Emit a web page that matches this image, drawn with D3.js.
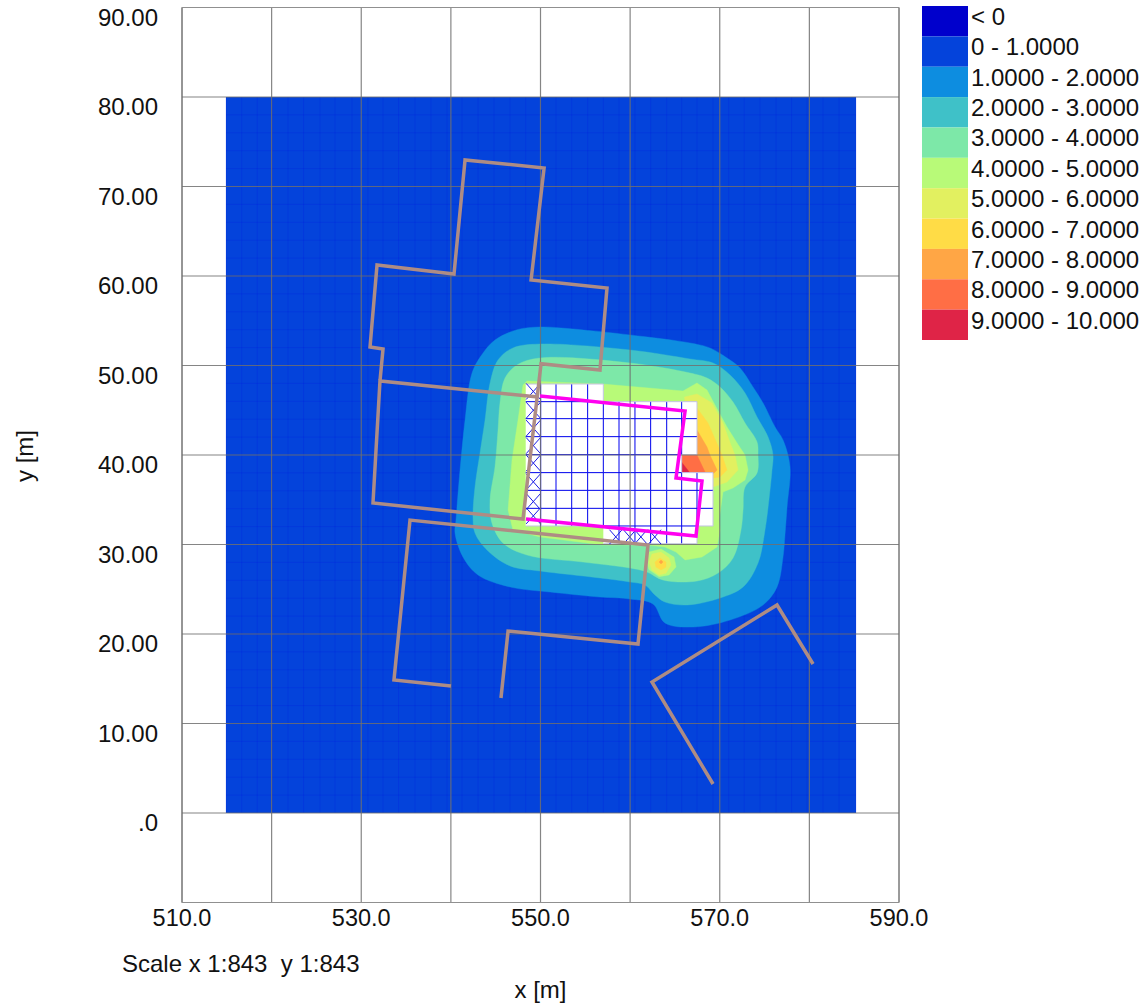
<!DOCTYPE html>
<html><head><meta charset="utf-8">
<script src="https://cdn.jsdelivr.net/npm/d3@7/dist/d3.min.js"></script>
<style>html,body{margin:0;padding:0;background:#fff}svg{display:block}text{font-family:"Liberation Sans",Arial,sans-serif;fill:#111;white-space:pre}</style>
</head><body><svg id="c" width="1146" height="1005"></svg>
<script>
const legendLabels=["< 0","0 - 1.0000","1.0000 - 2.0000","2.0000 - 3.0000","3.0000 - 4.0000","4.0000 - 5.0000","5.0000 - 6.0000","6.0000 - 7.0000","7.0000 - 8.0000","8.0000 - 9.0000","9.0000 - 10.000"];
const legendColors=["#0000cc","#0443db","#0d8de0","#3fc1c8","#7de8a8","#b8fa78","#e2f060","#ffdc46","#ffa645","#ff6e45","#df2447"];
const xTicks=[510,520,530,540,550,560,570,580,590];
const yTicks=[0,10,20,30,40,50,60,70,80,90];
const xLabelled={510:"510.0",530:"530.0",550:"550.0",570:"570.0",590:"590.0"};
const yLabels={0:".0",10:"10.00",20:"20.00",30:"30.00",40:"40.00",50:"50.00",60:"60.00",70:"70.00",80:"80.00",90:"90.00"};
const domainX=[514.91,585.2], domainY=[0,80];
const meshXOuter=[514.91,516.66,518.4,520.1,521.83,523.56,525.4,527.07,528.97,530.75,532.43,534.16,536,537.78,539.57,541.24,543.03,544.81,546.6,570.99,572.73,574.49,576.28,578.01,579.74,581.52,583.31,585.2];
const meshYAll=[2,4,6,8,10,12,14,16,18,20,22,24,26,28,32,34,36,38,42,44,46,48,50,52,54,56,58,60,62,64,66,68,70,72,74,76,78];
const level1=[[549.95,54.3],[553.63,54.08],[560,53.41],[566.68,52.52],[568.91,51.96],[570.81,50.84],[572.26,49.72],[573.71,47.6],[574.83,45.81],[576.17,43.13],[577.06,41.68],[577.84,38.66],[577.51,34.19],[577.28,31.06],[577.06,28.6],[576.39,25.25],[574.83,23.24],[571.15,21.56],[567.02,20.78],[563.89,21.23],[562.55,23.35],[560,23.91],[556.64,24.13],[551.07,24.69],[546.6,25.25],[543.03,26.59],[541.35,28.6],[540.46,31.28],[540.57,32.73],[541.02,38.32],[541.58,43.91],[542.36,49.16],[543.45,51.2],[544.92,52.85],[547.38,54.0]];
const level2=[[549.95,52.4],[560,51.73],[566.68,50.73],[569.25,50.28],[571.15,48.94],[572.82,46.93],[574.16,44.25],[575.39,42.01],[575.94,40],[575.83,38.32],[575.61,36.09],[575.05,31.62],[574.27,27.93],[572.6,25.25],[570.03,24.02],[566.35,23.24],[563.89,23.57],[562.77,24.36],[561.65,25.47],[560,25.81],[556.64,26.26],[549.95,27.04],[546.6,27.6],[544.03,29.39],[542.69,31.28],[542.47,33.07],[542.69,36.42],[543.25,40.22],[543.81,43.91],[544.37,48.05],[545.26,50.62],[546.93,51.96]];
const level3=[[549.95,50.84],[560,50.28],[566.68,49.16],[568.58,48.6],[570.03,47.6],[571.48,45.92],[572.82,43.57],[574.16,41.45],[574.27,40],[574.16,37.99],[572.82,36.42],[572.6,33.85],[572.37,31.62],[571.48,28.49],[569.81,26.81],[567.46,25.92],[563.67,26.03],[561.88,26.93],[560,27.37],[554.75,28.04],[548.5,28.82],[545.81,30.17],[544.58,32.4],[544.37,34.97],[544.92,38.66],[545.26,42.79],[545.48,45.81],[546.04,48.6],[547.38,50.06]];
const level4=[[548.5,48.27],[556.97,47.93],[565.9,47.15],[567.46,48.05],[568.58,47.26],[569.47,45.58],[570.81,43.13],[571.93,41.34],[572.82,40],[573.16,38.32],[572.82,37.2],[571.48,36.31],[570.36,35.87],[569.92,32.73],[570.03,31.62],[569.7,29.72],[568.02,28.6],[566.13,28.27],[565.12,29.16],[563.89,29.72],[561.99,29.94],[556.97,29.94],[549.95,30.84],[546.93,31.62],[546.38,33.85],[546.82,39.44],[547.49,43.91],[548.05,47.82]];
const level5=[[566.08,46.48],[567.46,46.82],[569.14,45.81],[570.36,43.57],[571.25,41.12],[571.7,40],[572.04,38.32],[570.81,36.98],[569.25,36.42],[566.68,36.42]];
const level6=[[566.13,45.25],[567.46,45.25],[568.69,43.57],[570.25,40],[570.81,38.32],[570.03,37.54],[569.25,37.43],[566.13,37.43]];
const level7=[[566.68,42.79],[567.46,42.79],[568.58,40.89],[568.91,40],[569.7,38.32],[569.25,37.88],[566.68,37.88]];
const level8=[[565.75,40],[567.46,40],[568.36,38.09],[565.75,37.99]];
const level9=[[565.75,39.2],[566.68,37.99],[565.75,37.99]];
const spot4=[[563.45,29.5],[564.9,28.6],[565.12,27.5],[564.34,26.6],[563.23,26.4],[562.1,27.2],[561.77,28.27],[562.1,29.16]];
const spot5=[[563.45,29.16],[564.34,28.5],[564.56,27.7],[564,26.8],[563.23,26.6],[562.44,27.15],[562.1,28.05],[562.44,28.93]];
const spot6=[[563.34,28.49],[564,28.04],[564,27.48],[563.45,27.15],[562.88,27.48],[562.77,28.04]];
const spot7=[[563.45,28.27],[563.67,28.04],[563.45,27.82],[563.23,28.04]];
const cellX=[548.35,550.02,551.73,553.48,555.26,557.01,558.76,560.54,562.29,564.08,565.75,567.46,569.25];
const cellY=[47.93,45.96,44.06,42.05,40.04,38.03,36.05,34.04,32.07,30.09];
const rowFrom=[0,0,0,0,0,0,0,0,5];
const rowTo=[4,10,10,10,9,11,11,11,10];
const crossLeft=[[549.2,47.1],[549.2,45.0],[549.2,43.0],[549.2,41.05],[549.2,39.1],[549.2,37.0],[549.2,34.8],[549.2,33.2]];
const crossBottom=[[558.4,30.85],[559.95,30.85],[561.2,30.85],[562.75,30.85]];
const wallA=[[540.01,14.19],[533.65,14.86],[535.44,32.73],[561.99,29.94],[560.88,18.88],[546.38,20.33],[545.59,12.85]];
const wallB=[[549.73,46.48],[532.09,48.27],[531.31,34.64],[548.05,32.85],[550.06,50.2],[556.64,49.5],[557.42,58.66],[548.95,59.55],[550.4,72.07],[541.58,72.96],[540.35,60.22],[531.76,61.23],[530.98,52.07],[532.43,51.84],[532.09,48.27]];
const wallC=[[569.25,3.24],[562.44,14.64],[576.39,23.24],[580.41,16.65]];
const building=[[549.95,46.59],[566.13,44.92],[565.12,37.43],[568.02,37.09],[567.35,30.95],[548.38,32.85]];

const svg=d3.select("#c");
const x=d3.scaleLinear().domain([510,590]).range([182,899]);
const y=d3.scaleLinear().domain([-10,90]).range([902.5,7.5]);
const line=d3.line().x(d=>x(d[0])).y(d=>y(d[1]));
const smooth=d3.line().x(d=>x(d[0])).y(d=>y(d[1])).curve(d3.curveCatmullRomClosed.alpha(.5));
const poly=(pts,col,sm)=>svg.append("path").attr("d",sm?smooth(pts):line(pts)+"Z").attr("fill",col).attr("stroke",col).attr("stroke-width",.4);

// base field and faint mesh
svg.append("rect").attr("x",x(domainX[0])).attr("y",y(domainY[1])).attr("width",x(domainX[1])-x(domainX[0])).attr("height",y(domainY[0])-y(domainY[1])).attr("fill",legendColors[1]);
const mesh=svg.append("g").attr("stroke","#0000e6").attr("stroke-opacity",.15).attr("stroke-width",1);
meshXOuter.concat(cellX).forEach(v=>mesh.append("line").attr("x1",x(v)).attr("x2",x(v)).attr("y1",y(domainY[0])).attr("y2",y(domainY[1])));
meshYAll.forEach(v=>mesh.append("line").attr("x1",x(domainX[0])).attr("x2",x(domainX[1])).attr("y1",y(v)).attr("y2",y(v)));

// contour bands
[level1,level2,level3,level4,level5,level6,level7,level8,level9].forEach((p,i)=>poly(p,legendColors[i+2],i<3));
[spot4,spot5,spot6,spot7].forEach((p,i)=>poly(p,legendColors[i+5],false));

// empty cells
const has=(r,c)=>r>=0&&r<rowFrom.length&&c>=rowFrom[r]&&c<=rowTo[r];
const cells=svg.append("g"), seg=svg.append("g").attr("fill","none");
rowFrom.forEach((f,r)=>{for(let c=f;c<=rowTo[r];c++){cells.append("rect").attr("x",x(cellX[c])).attr("y",y(cellY[r])).attr("width",x(cellX[c+1])-x(cellX[c])).attr("height",y(cellY[r+1])-y(cellY[r])).attr("fill","#fff");}});
const edge=(x1,y1,x2,y2,inner)=>seg.append("line").attr("x1",x(x1)).attr("y1",y(y1)).attr("x2",x(x2)).attr("y2",y(y2)).attr("stroke",inner?"#0000f0":"#c4c4e4").attr("stroke-width",1);
rowFrom.forEach((f,r)=>{for(let c=f;c<=rowTo[r];c++){
  edge(cellX[c+1],cellY[r],cellX[c+1],cellY[r+1],has(r,c+1));
  edge(cellX[c],cellY[r+1],cellX[c+1],cellY[r+1],has(r+1,c));
  if(!has(r-1,c))edge(cellX[c],cellY[r],cellX[c+1],cellY[r],false);
}});
const cross=(pts,dx,dy)=>pts.forEach(p=>{
  seg.append("line").attr("x1",x(p[0]-dx)).attr("y1",y(p[1]-dy)).attr("x2",x(p[0]+dx)).attr("y2",y(p[1]+dy)).attr("stroke","#1a1ae6").attr("stroke-width",1);
  seg.append("line").attr("x1",x(p[0]-dx)).attr("y1",y(p[1]+dy)).attr("x2",x(p[0]+dx)).attr("y2",y(p[1]-dy)).attr("stroke","#1a1ae6").attr("stroke-width",1);
});
cross(crossLeft,.8,.9);
cross(crossBottom,.7,.8);

// grid + axes
const gx=svg.append("g").attr("transform","translate(0,902.5)").call(d3.axisBottom(x).offset(0).tickValues(xTicks).tickSize(-895).tickFormat(d=>xLabelled[d]||""));
const gy=svg.append("g").attr("transform","translate(182,0)").call(d3.axisLeft(y).offset(0).tickValues(yTicks).tickSize(-717).tickFormat(d=>yLabels[d]));
svg.append("line").attr("x1",182).attr("x2",899).attr("y1",902.5).attr("y2",902.5).attr("stroke","#909090");
svg.append("line").attr("x1",182).attr("x2",899).attr("y1",7.5).attr("y2",7.5).attr("stroke","#909090");
[gx,gy].forEach(g=>{g.select(".domain").attr("stroke","#909090").attr("stroke-width",1);
  g.selectAll(".tick line").attr("stroke","#707070").attr("stroke-opacity",.85).attr("stroke-width",1.2);
  g.selectAll("text").style("font-size","24px").style("font-family",'"Liberation Sans",Arial,sans-serif').attr("fill","#111");});
gx.selectAll("text").style("font-size","23.5px").attr("y",7).attr("dy","0.71em");
gy.selectAll("text").attr("x",-24).attr("y",-1).attr("dy","0.8em");

// walls
const wall=(p,c,w)=>svg.append("path").attr("d",line(p)).attr("fill","none").attr("stroke",c).attr("stroke-width",w).attr("stroke-linejoin","miter");
wall(building,"#ff00f0",3.5);
[wallA,wallB,wallC].forEach(p=>wall(p,"#ae8c84",3.5));

// legend
const legend=svg.append("g");
const rowY=d3.scaleLinear().domain([0,11]).range([6,340]);
legendLabels.forEach((t,i)=>{
  legend.append("rect").attr("x",922).attr("y",rowY(i)).attr("width",46).attr("height",rowY(i+1)-rowY(i)).attr("fill",legendColors[i]);
  legend.append("text").attr("x",971).attr("y",rowY(i)+19).style("font-size","24px").text(t);
});
svg.append("text").attr("x",122).attr("y",972).style("font-size","24px").text("Scale x 1:843  y 1:843");
svg.append("text").attr("x",540.5).attr("y",998).attr("text-anchor","middle").style("font-size","24px").text("x [m]");
svg.append("text").attr("transform","translate(33,456) rotate(-90)").attr("text-anchor","middle").style("font-size","24px").text("y [m]");
</script></body></html>
